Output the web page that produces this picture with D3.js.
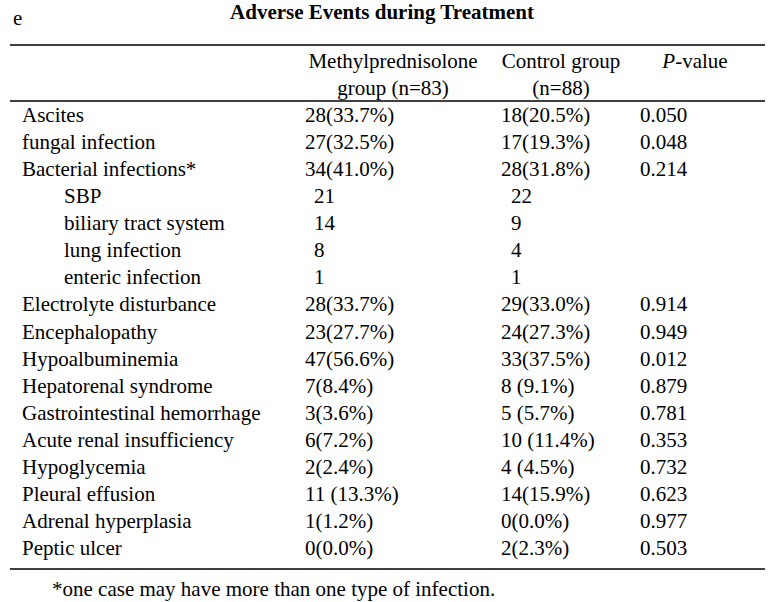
<!DOCTYPE html>
<html><head><meta charset="utf-8">
<script src="https://cdn.jsdelivr.net/npm/d3@7"></script>
<style>
html,body{margin:0;padding:0;background:#fff;}
svg text{font-family:"Liberation Serif","Times New Roman",serif;fill:#000;}
</style></head>
<body>
<script>
const categories = ["Ascites","fungal infection","Bacterial infections*","SBP","biliary tract system","lung infection","enteric infection","Electrolyte disturbance","Encephalopathy","Hypoalbuminemia","Hepatorenal syndrome","Gastrointestinal hemorrhage","Acute renal insufficiency","Hypoglycemia","Pleural effusion","Adrenal hyperplasia","Peptic ulcer"];
const subRow = [false,false,false,true,true,true,true,false,false,false,false,false,false,false,false,false,false];
const methyl = ["28(33.7%)","27(32.5%)","34(41.0%)","21","14","8","1","28(33.7%)","23(27.7%)","47(56.6%)","7(8.4%)","3(3.6%)","6(7.2%)","2(2.4%)","11 (13.3%)","1(1.2%)","0(0.0%)"];
const control = ["18(20.5%)","17(19.3%)","28(31.8%)","22","9","4","1","29(33.0%)","24(27.3%)","33(37.5%)","8 (9.1%)","5 (5.7%)","10 (11.4%)","4 (4.5%)","14(15.9%)","0(0.0%)","2(2.3%)"];
const pvalues = ["0.050","0.048","0.214","","","","","0.914","0.949","0.012","0.879","0.781","0.353","0.732","0.623","0.977","0.503"];
const headerMethyl = ["Methylprednisolone","group (n=83)"];
const headerControl = ["Control group","(n=88)"];
const title = "Adverse Events during Treatment";
const panelLabel = "e";
const footnote = "*one case may have more than one type of infection.";

const W = 777, H = 602;
const FF = "'Liberation Serif','Times New Roman',serif";
const svg = d3.select("body").append("svg").attr("width",W).attr("height",H)
  .attr("font-family",FF);

const y = d3.scalePoint().domain(d3.range(categories.length)).range([122,555]);
const FS = 21;
const txt = (sel)=>sel.append("text").attr("font-family",FF).attr("font-size",FS);

txt(svg).attr("x",13).attr("y",25).text(panelLabel);
txt(svg).attr("x",382).attr("y",19).attr("text-anchor","middle")
  .attr("font-weight","bold").text(title);

const rule = (yy)=>svg.append("line").attr("x1",10).attr("x2",765).attr("y1",yy).attr("y2",yy)
  .attr("stroke","#000").attr("stroke-width",1.5);
rule(45); rule(101); rule(569);

// header
headerMethyl.forEach((t,i)=>txt(svg).attr("x",393).attr("y",68+i*27).attr("text-anchor","middle").text(t));
headerControl.forEach((t,i)=>txt(svg).attr("x",561).attr("y",68+i*27).attr("text-anchor","middle").text(t));
const ph = txt(svg).attr("x",695).attr("y",68).attr("text-anchor","middle");
ph.append("tspan").attr("font-style","italic").text("P");
ph.append("tspan").text("-value");

const rows = svg.append("g").selectAll("g").data(categories).join("g")
  .attr("transform",(d,i)=>`translate(0,${y(i)})`);
txt(rows).attr("x",(d,i)=>subRow[i]?64:22).text(d=>d);
txt(rows).attr("x",(d,i)=>subRow[i]?314:305).text((d,i)=>methyl[i]);
txt(rows).attr("x",(d,i)=>subRow[i]?511:501).text((d,i)=>control[i]);
txt(rows).attr("x",640).text((d,i)=>pvalues[i]);

txt(svg).attr("x",52).attr("y",596).text(footnote);
</script>
</body></html>
